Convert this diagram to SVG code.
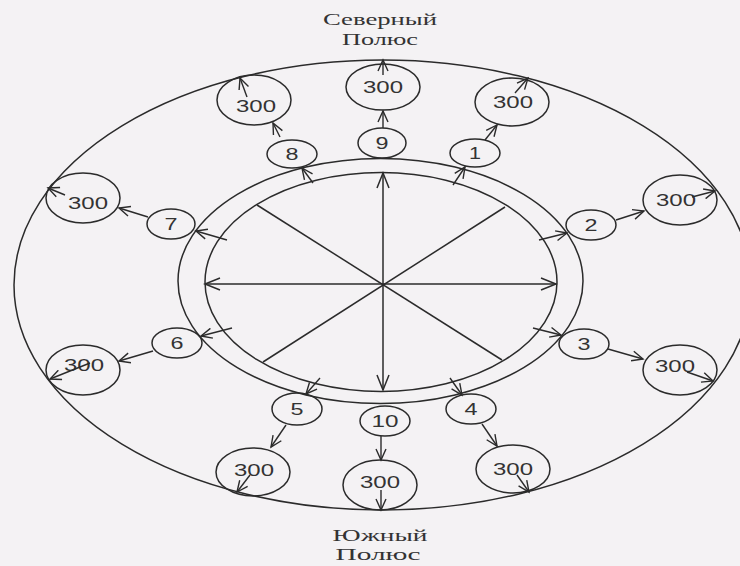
<svg xmlns="http://www.w3.org/2000/svg" width="740" height="566" viewBox="0 0 740 566">
<defs>
<style>
.ln{fill:none;stroke:#2b2b2b;stroke-width:1.5}
.nd{fill:none;stroke:#2b2b2b;stroke-width:1.5}
.num{font-family:"Liberation Sans",Arial,sans-serif;font-size:17px;fill:#333;text-anchor:middle}
.ttl{font-family:"Liberation Serif","Times New Roman",serif;font-size:17px;fill:#333;text-anchor:middle}
.ar{fill:none;stroke:#2b2b2b;stroke-width:1.4;marker-end:url(#ah)}
.sp{fill:none;stroke:#2b2b2b;stroke-width:1.5;marker-end:url(#ahb);marker-start:url(#ahb)}
</style>
<marker id="ah" markerUnits="userSpaceOnUse" viewBox="-12 -6 14 12" refX="0" refY="0" markerWidth="14" markerHeight="12" orient="auto">
<path d="M-11,-5 L0,0 L-11,5" fill="none" stroke="#2b2b2b" stroke-width="1.4"/>
</marker>
<marker id="ahb" markerUnits="userSpaceOnUse" viewBox="-16 -8 18 16" refX="0" refY="0" markerWidth="18" markerHeight="16" orient="auto-start-reverse">
<path d="M-15,-6 L0,0 L-15,6" fill="none" stroke="#2b2b2b" stroke-width="1.5"/>
</marker>
</defs>
<rect width="740" height="566" fill="#f4f2f4"/>

<g id="frame">
<ellipse class="ln" cx="382.5" cy="285" rx="368.5" ry="225"/>
<ellipse class="ln" cx="380.5" cy="281" rx="202.5" ry="122.5"/>
<ellipse class="ln" cx="381" cy="282" rx="176" ry="109.5"/>
<line class="ln" x1="257" y1="205" x2="502" y2="360"/>
<line class="ln" x1="505" y1="207" x2="263" y2="362"/>
</g>

<g id="labels">
<text class="ttl" x="380" y="25" textLength="114" lengthAdjust="spacingAndGlyphs">Северный</text>
<text class="ttl" x="380" y="45" textLength="76" lengthAdjust="spacingAndGlyphs">Полюс</text>
<text class="ttl" x="380" y="541" textLength="95" lengthAdjust="spacingAndGlyphs">Южный</text>
<text class="ttl" x="378" y="560" textLength="85" lengthAdjust="spacingAndGlyphs">Полюс</text>
</g>

<g id="n1"><ellipse class="nd" cx="475" cy="153" rx="25" ry="14"/><text class="num" x="475" y="159" textLength="12" lengthAdjust="spacingAndGlyphs">1</text></g>
<g id="n2"><ellipse class="nd" cx="591" cy="225" rx="25" ry="15"/><text class="num" x="591" y="231" textLength="13" lengthAdjust="spacingAndGlyphs">2</text></g>
<g id="n3"><ellipse class="nd" cx="584" cy="344" rx="25" ry="15"/><text class="num" x="584" y="350" textLength="13" lengthAdjust="spacingAndGlyphs">3</text></g>
<g id="n4"><ellipse class="nd" cx="471" cy="409" rx="25" ry="15"/><text class="num" x="471" y="415" textLength="13" lengthAdjust="spacingAndGlyphs">4</text></g>
<g id="n5"><ellipse class="nd" cx="297" cy="409" rx="25" ry="16"/><text class="num" x="297" y="415" textLength="13" lengthAdjust="spacingAndGlyphs">5</text></g>
<g id="n6"><ellipse class="nd" cx="177" cy="343" rx="25" ry="15"/><text class="num" x="177" y="349" textLength="13" lengthAdjust="spacingAndGlyphs">6</text></g>
<g id="n7"><ellipse class="nd" cx="171" cy="224" rx="24" ry="15"/><text class="num" x="171" y="230" textLength="13" lengthAdjust="spacingAndGlyphs">7</text></g>
<g id="n8"><ellipse class="nd" cx="292" cy="154" rx="25" ry="14"/><text class="num" x="292" y="160" textLength="13" lengthAdjust="spacingAndGlyphs">8</text></g>
<g id="n9"><ellipse class="nd" cx="382" cy="143" rx="24" ry="15"/><text class="num" x="382" y="149" textLength="13" lengthAdjust="spacingAndGlyphs">9</text></g>
<g id="n10"><ellipse class="nd" cx="385" cy="421" rx="25" ry="15"/><text class="num" x="385" y="427" textLength="27" lengthAdjust="spacingAndGlyphs">10</text></g>

<g id="t1"><ellipse class="nd" cx="512" cy="102" rx="37" ry="24"/><text class="num" x="513" y="108" textLength="40" lengthAdjust="spacingAndGlyphs">300</text></g>
<g id="t2"><ellipse class="nd" cx="680" cy="200" rx="37" ry="25"/><text class="num" x="676" y="206" textLength="40" lengthAdjust="spacingAndGlyphs">300</text></g>
<g id="t3"><ellipse class="nd" cx="680" cy="370" rx="37" ry="25"/><text class="num" x="675" y="372" textLength="40" lengthAdjust="spacingAndGlyphs">300</text></g>
<g id="t4"><ellipse class="nd" cx="513" cy="469" rx="37" ry="24"/><text class="num" x="513" y="475" textLength="40" lengthAdjust="spacingAndGlyphs">300</text></g>
<g id="t10"><ellipse class="nd" cx="380" cy="485" rx="37" ry="25"/><text class="num" x="380" y="488" textLength="40" lengthAdjust="spacingAndGlyphs">300</text></g>
<g id="t5"><ellipse class="nd" cx="253" cy="472" rx="37" ry="24"/><text class="num" x="254" y="476" textLength="40" lengthAdjust="spacingAndGlyphs">300</text></g>
<g id="t6"><ellipse class="nd" cx="83" cy="370" rx="37" ry="25"/><text class="num" x="84" y="371" textLength="40" lengthAdjust="spacingAndGlyphs">300</text></g>
<g id="t7"><ellipse class="nd" cx="83" cy="198" rx="37" ry="25"/><text class="num" x="88" y="209" textLength="40" lengthAdjust="spacingAndGlyphs">300</text></g>
<g id="t8"><ellipse class="nd" cx="254" cy="100" rx="37" ry="25"/><text class="num" x="256" y="112" textLength="40" lengthAdjust="spacingAndGlyphs">300</text></g>
<g id="t9"><ellipse class="nd" cx="383" cy="87" rx="37" ry="23"/><text class="num" x="383" y="93" textLength="40" lengthAdjust="spacingAndGlyphs">300</text></g>

<g id="connectors">
<line class="sp" x1="205" y1="284" x2="556" y2="284"/>
<line class="sp" x1="383" y1="173" x2="383" y2="390"/>
<line class="ar" x1="453" y1="185" x2="465" y2="167"/>
<line class="ar" x1="485" y1="140" x2="497" y2="125"/>
<line class="ar" x1="515" y1="93" x2="528" y2="78"/>
<line class="ar" x1="539" y1="240" x2="567" y2="233"/>
<line class="ar" x1="616" y1="220" x2="644" y2="211"/>
<line class="ar" x1="692" y1="197" x2="715" y2="191"/>
<line class="ar" x1="533" y1="328" x2="561" y2="335"/>
<line class="ar" x1="608" y1="349" x2="643" y2="359"/>
<line class="ar" x1="687" y1="372" x2="713" y2="381"/>
<line class="ar" x1="450" y1="378" x2="462" y2="395"/>
<line class="ar" x1="482" y1="424" x2="497" y2="446"/>
<line class="ar" x1="517" y1="475" x2="529" y2="492"/>
<line class="ar" x1="381" y1="436" x2="381" y2="460"/>
<line class="ar" x1="381" y1="490" x2="381" y2="510"/>
<line class="ar" x1="320" y1="378" x2="306" y2="394"/>
<line class="ar" x1="286" y1="425" x2="271" y2="447"/>
<line class="ar" x1="250" y1="475" x2="237" y2="492"/>
<line class="ar" x1="232" y1="328" x2="201" y2="336"/>
<line class="ar" x1="153" y1="351" x2="119" y2="361"/>
<line class="ar" x1="90" y1="363" x2="50" y2="379"/>
<line class="ar" x1="227" y1="240" x2="196" y2="231"/>
<line class="ar" x1="148" y1="217" x2="119" y2="208"/>
<line class="ar" x1="65" y1="195" x2="48" y2="188"/>
<line class="ar" x1="313" y1="183" x2="302" y2="168"/>
<line class="ar" x1="280" y1="137" x2="273" y2="123"/>
<line class="ar" x1="247" y1="97" x2="240" y2="78"/>
<line class="ar" x1="383" y1="128" x2="383" y2="111"/>
<line class="ar" x1="383" y1="75" x2="383" y2="60"/>
</g>
</svg>
